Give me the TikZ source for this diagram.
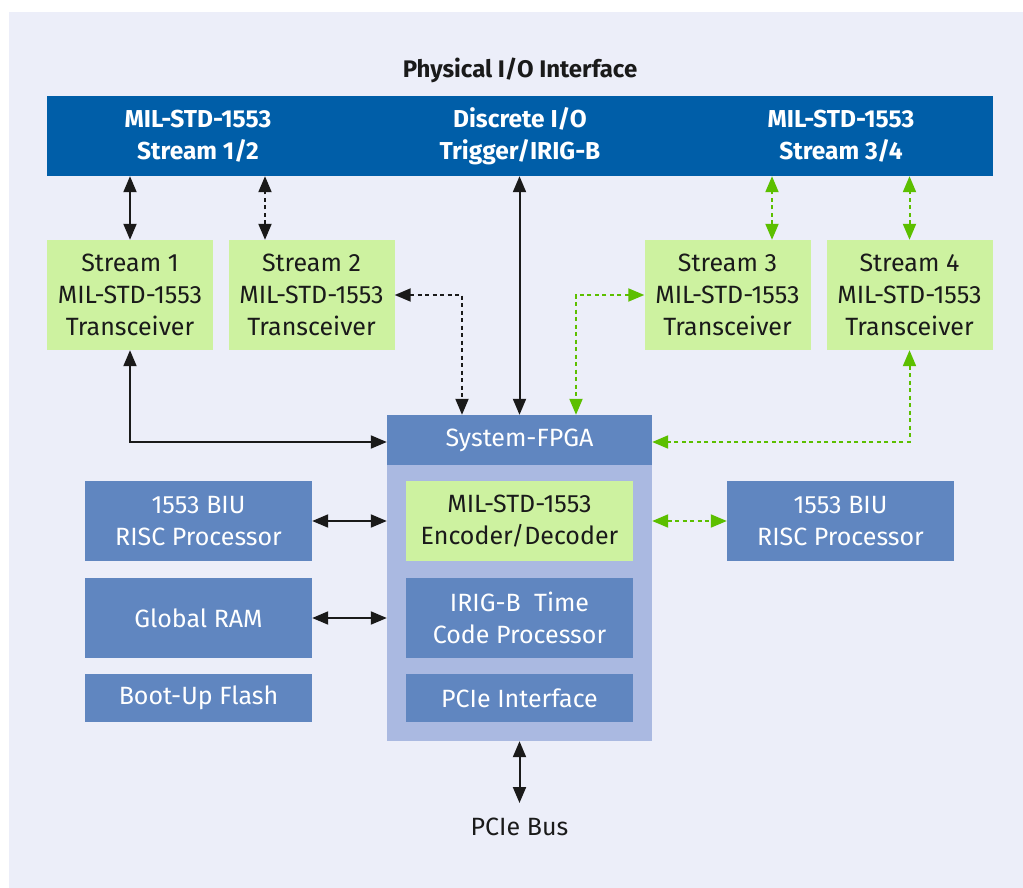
\documentclass[tikz,border=0pt]{standalone}
\usepackage{fontspec}
\setmainfont{Fira Sans}
\usetikzlibrary{arrows.meta,calc}
\definecolor{bgl}{RGB}{236,238,249}
\definecolor{barblue}{RGB}{0,94,168}
\definecolor{lgreen}{RGB}{205,242,160}
\definecolor{mblue}{RGB}{96,134,192}
\definecolor{lblue}{RGB}{170,185,225}
\definecolor{agreen}{RGB}{92,191,0}
\definecolor{ink}{RGB}{26,26,26}
\begin{document}
\begin{tikzpicture}[x=1pt,y=-1pt,
  txt/.style={font=\fontsize{25}{32}\selectfont, align=center, inner sep=0pt},
  gbox/.style={txt, fill=lgreen, text=ink, minimum width=166pt, minimum height=110pt},
  bbox/.style={txt, fill=mblue, text=white, minimum width=227pt, minimum height=80pt},
  bartxt/.style={txt, text=white, font=\fontsize{24.5}{32}\selectfont\bfseries},
  dbl/.style={line width=2pt, draw=ink, {Triangle[length=16pt,width=13pt]}-{Triangle[length=16pt,width=13pt]}},
  dotk/.style={dbl, dash pattern=on 4pt off 3.5pt},
  dotg/.style={dbl, draw=agreen, dash pattern=on 4pt off 3.5pt}
]
\useasboundingbox (0,0) rectangle (1023,888);
\fill[white] (0,0) rectangle (1023,888);
\fill[bgl] (9,12) rectangle (1023,888);

\node[txt, text=ink, font=\fontsize{24}{32}\selectfont\bfseries] (title) at (520,70) {Physical I/O Interface};

\node[fill=barblue, minimum width=946pt, minimum height=80pt, inner sep=0pt] (bar) at (520,136) {};
\node[bartxt] (b1) at (198,136) {MIL-STD-1553\\Stream 1/2};
\node[bartxt] (b2) at (520,136) {Discrete I/O\\Trigger/IRIG-B};
\node[bartxt] (b3) at (841,136) {MIL-STD-1553\\Stream 3/4};

\node[gbox] (s1) at (130,295) {Stream 1\\MIL-STD-1553\\Transceiver};
\node[gbox] (s2) at (311.5,295) {Stream 2\\MIL-STD-1553\\Transceiver};
\node[gbox] (s3) at (727.5,295) {Stream 3\\MIL-STD-1553\\Transceiver};
\node[gbox] (s4) at (909.5,295) {Stream 4\\MIL-STD-1553\\Transceiver};

\node[fill=lblue, minimum width=265pt, minimum height=326pt, inner sep=0pt] (fpga) at (519.5,578) {};
\node[txt, fill=mblue, text=white, minimum width=265pt, minimum height=50pt] (hdr) at (519.5,440) {System-FPGA};
\node[gbox, minimum width=227pt, minimum height=80pt] (enc) at (519.5,521) {MIL-STD-1553\\Encoder/Decoder};
\node[bbox] (irig) at (519.5,618) {IRIG-B\ \ Time\\Code Processor};
\node[bbox, minimum height=48pt] (pcie) at (519.5,698) {PCIe Interface};

\node[bbox] (biul) at (198.5,521) {1553 BIU\\RISC Processor};
\node[bbox] (ram) at (198.5,618) {Global RAM};
\node[bbox, minimum height=48pt] (flash) at (198.5,698) {Boot-Up Flash};
\node[bbox] (biur) at (840.5,521) {1553 BIU\\RISC Processor};

\node[txt, text=ink] (pbus) at (519.5,827) {PCIe Bus};
\coordinate (pb) at (519.5,803);

% bar to transceivers
\draw[dbl] (s1.north) -- (s1.north |- bar.south);
\draw[dotk] ([xshift=-46.5pt]s2.north) -- ([xshift=-46.5pt]s2.north |- bar.south);
\draw[dotg] ([xshift=44.5pt]s3.north) -- ([xshift=44.5pt]s3.north |- bar.south);
\draw[dotg] (s4.north) -- (s4.north |- bar.south);
\draw[dbl] (bar.south -| hdr.north) -- (hdr.north);

% transceivers to FPGA
\draw[dotk] (s2.east) -| ([xshift=-57.5pt]hdr.north);
\draw[dotg] (s3.west) -| ([xshift=56.5pt]hdr.north);
\draw[dbl] (s1.south) |- ([yshift=-2pt]hdr.west);
\draw[dotg] (s4.south) |- ([yshift=-2pt]hdr.east);

% side blocks
\draw[dbl] (biul.east) -- (biul.east -| fpga.west);
\draw[dbl] (ram.east) -- (ram.east -| fpga.west);
\draw[dotg] (biur.west -| fpga.east) -- (biur.west);

% PCIe bus
\draw[dbl] (fpga.south) -- (pb);
\end{tikzpicture}
\end{document}
